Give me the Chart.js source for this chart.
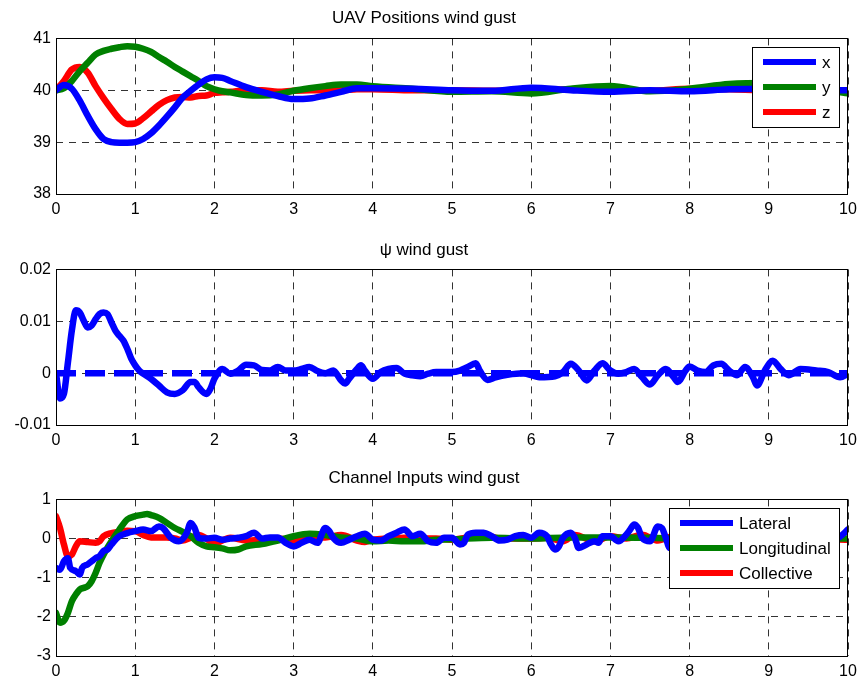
<!DOCTYPE html>
<html>
<head>
<meta charset="utf-8">
<title>UAV wind gust response</title>
<script src="https://cdn.jsdelivr.net/npm/chart.js@4.4.1/dist/chart.umd.min.js"></script>
<style>
  html, body { margin: 0; padding: 0; background: #fff; }
  #wrap { position: relative; width: 864px; height: 686px; overflow: hidden; background: #fff; }
  .panel { position: absolute; left: 0; width: 864px; }
  .panel canvas { display: block; }
</style>
</head>
<body>
<div id="wrap">
  <div class="panel" style="top:0;height:230px"><canvas id="cPos" width="864" height="230"></canvas></div>
  <div class="panel" style="top:230px;height:230px"><canvas id="cYaw" width="864" height="230"></canvas></div>
  <div class="panel" style="top:460px;height:226px"><canvas id="cIn" width="864" height="226"></canvas></div>
</div>
<script>
const FONT = "'Liberation Sans', Arial, Helvetica, sans-serif";

// Shared time axis (s)
const timeTicks = [0, 1, 2, 3, 4, 5, 6, 7, 8, 9, 10];

// --- UAV positions under wind gust ---
const posTime = [0, 0.1, 0.2, 0.3, 0.4, 0.5, 0.6, 0.7, 0.8, 0.9, 1.0, 1.1, 1.2, 1.3, 1.4, 1.5, 1.6, 1.7, 1.8, 1.9, 2.0,
                 2.1, 2.2, 2.4, 2.6, 2.8, 3.0, 3.2, 3.4, 3.6, 3.8, 4.0, 4.5, 5.0, 5.5, 6.0, 6.5, 7.0, 7.5, 8.0, 8.5, 9.0, 9.5, 10];
const posX = [40.0, 40.1, 40.03, 39.8, 39.51, 39.25, 39.06, 39.0, 38.99, 38.99, 39.0, 39.06, 39.17, 39.32, 39.49, 39.67, 39.86, 39.99, 40.11, 40.21, 40.25,
              40.24, 40.18, 40.06, 39.97, 39.89, 39.83, 39.84, 39.9, 39.97, 40.04, 40.04, 40.03, 40.0, 39.99, 40.05, 40.0, 39.97, 40.0, 39.98, 40.02, 40.03, 40.0, 40.0];
const posY = [40.0, 40.04, 40.18, 40.37, 40.53, 40.69, 40.76, 40.8, 40.83, 40.85, 40.84, 40.8, 40.74, 40.64, 40.55, 40.45, 40.36, 40.27, 40.18, 40.08, 40.02,
              39.98, 39.96, 39.91, 39.9, 39.92, 39.99, 40.04, 40.08, 40.11, 40.11, 40.08, 40.03, 39.97, 39.98, 39.94, 40.03, 40.08, 39.98, 40.03, 40.12, 40.14, 40.06, 39.94];
const posZ = [40.0, 40.18, 40.4, 40.45, 40.34, 40.08, 39.85, 39.64, 39.45, 39.35, 39.36, 39.46, 39.59, 39.72, 39.81, 39.86, 39.87, 39.86, 39.89, 39.9, 39.95,
              39.96, 39.97, 40.0, 40.0, 39.97, 39.99, 40.0, 40.0, 40.0, 40.02, 40.02, 40.0, 40.0, 39.99, 40.0, 40.02, 39.99, 39.99, 40.03, 40.02, 40.0, 40.0, 39.98];
const posTicks = [38, 39, 40, 41];
const posTickLabels = ['38', '39', '40', '41'];

// --- Yaw angle psi under wind gust ---
const yawTime = [0, 0.05, 0.1, 0.15, 0.2, 0.25, 0.3, 0.35, 0.4, 0.45, 0.5, 0.55, 0.6, 0.65, 0.7, 0.75, 0.8, 0.85, 0.9, 0.95,
                 1.0, 1.05, 1.1, 1.2, 1.3, 1.4, 1.5, 1.6, 1.7, 1.75, 1.8, 1.9, 1.95, 2.0, 2.1, 2.2, 2.3, 2.4, 2.5, 2.6, 2.7, 2.8, 2.9,
                 3.0, 3.1, 3.2, 3.3, 3.4, 3.5, 3.6, 3.65, 3.7, 3.8, 3.85, 3.9, 4.0, 4.1, 4.2, 4.3, 4.4, 4.5, 4.6, 4.7, 4.8, 4.9,
                 5.0, 5.1, 5.2, 5.3, 5.35, 5.45, 5.55, 5.7, 5.9, 6.0, 6.1, 6.3, 6.4, 6.5, 6.6, 6.7, 6.8, 6.9,
                 7.0, 7.1, 7.2, 7.3, 7.4, 7.5, 7.6, 7.7, 7.8, 7.85, 7.95, 8.0, 8.1, 8.2, 8.3, 8.4, 8.5, 8.6, 8.7, 8.8, 8.85, 8.95,
                 9.05, 9.15, 9.25, 9.4, 9.6, 9.75, 9.9, 10];
const yawAngle = [0, -0.0049, -0.004, 0.002, 0.0082, 0.0121, 0.0117, 0.0101, 0.0088, 0.0092, 0.0104, 0.0114, 0.0117, 0.0114, 0.0098, 0.0082, 0.0072, 0.0063, 0.0047, 0.0028,
                  0.0015, 0.0005, -0.0001, -0.0011, -0.0024, -0.0037, -0.004, -0.0033, -0.0017, -0.0017, -0.0027, -0.004, -0.003, -0.0011, 0.0008, -0.0001, 0.0005, 0.0016, 0.0015, 0.0006, 0.0005, 0.0012, 0.0005,
                  0.0005, 0.0008, 0.0012, 0.0004, 0, 0.0005, -0.0014, -0.002, -0.0011, 0.0008, 0.0015, 0.0005, -0.0011, 0.0002, 0.0008, 0.001, -0.0001, -0.0004, -0.0006, -0.0001, 0.0002, 0.0002,
                  0.0002, 0.0005, 0.0012, 0.0019, 0.0005, -0.0013, -0.0008, -0.0003, 0, -0.0004, -0.0008, -0.0006, 0.0002, 0.0018, 0.0005, -0.0014, 0.0005, 0.0019,
                  0.0005, -0.0001, 0.0002, 0.0008, -0.0008, -0.0022, -0.0004, 0.0008, -0.0008, -0.0017, 0.0005, 0.0013, 0.0005, 0.0002, 0.0015, 0.0018, 0.0005, -0.0004, 0.0012, -0.0008, -0.0024, 0.0005,
                  0.0024, 0.0008, -0.0004, 0.0008, 0.0005, 0.0002, -0.0008, -0.0001];
const yawRefTime = [0, 10];
const yawRef = [0, 0];
const yawTicks = [-0.01, 0, 0.01, 0.02];
const yawTickLabels = ['-0.01', '0', '0.01', '0.02'];

// --- Channel inputs under wind gust ---
const latTime = [0, 0.05, 0.1, 0.15, 0.18, 0.25, 0.3, 0.33, 0.4, 0.45, 0.5, 0.55, 0.6, 0.65, 0.7, 0.8, 0.9, 1.0, 1.1, 1.2, 1.3, 1.35, 1.45, 1.55, 1.65, 1.7, 1.75, 1.8, 1.9,
                 2.0, 2.1, 2.2, 2.3, 2.4, 2.5, 2.6, 2.7, 2.8, 2.9, 3.0, 3.1, 3.2, 3.3, 3.4, 3.45, 3.5, 3.6, 3.7, 3.8, 3.9,
                 4.0, 4.1, 4.2, 4.3, 4.4, 4.5, 4.6, 4.7, 4.8, 4.9, 5.0, 5.1, 5.15, 5.2, 5.3, 5.4, 5.5, 5.6, 5.7, 5.8, 5.9,
                 6.0, 6.1, 6.2, 6.25, 6.3, 6.35, 6.4, 6.5, 6.55, 6.6, 6.7, 6.8, 6.85, 6.9, 7.0, 7.1, 7.2, 7.25, 7.3, 7.35, 7.4, 7.5, 7.6, 7.65, 7.7, 7.75,
                 7.85, 8.0, 8.2, 8.4, 8.6, 8.8, 9.0, 9.2, 9.4, 9.6, 9.8, 9.9, 10];
const latInput = [-0.75, -0.8, -0.58, -0.5, -0.75, -0.83, -0.92, -0.75, -0.66, -0.58, -0.5, -0.45, -0.32, -0.28, -0.15, 0.06, 0.14, 0.19, 0.23, 0.19, 0.31, 0.27, 0.02, -0.07, 0.14, 0.4, 0.27, 0.02, 0.0,
                  0.02, -0.03, 0.0, 0.02, 0.06, 0.15, 0.0, 0.03, 0.03, -0.11, -0.2, -0.11, -0.03, -0.11, 0.27, 0.19, 0.02, -0.11, -0.03, 0.06, 0.12,
                  -0.03, -0.05, 0.06, 0.15, 0.23, 0.06, 0.12, -0.07, -0.11, 0.02, 0.02, -0.15, -0.11, 0.1, 0.15, 0.15, 0.06, -0.05, -0.03, 0.06, 0.09,
                  0.02, 0.15, 0.06, -0.15, -0.28, -0.2, 0.02, 0.15, 0.02, -0.24, -0.15, -0.07, -0.11, 0.06, 0.06, -0.07, 0.1, 0.23, 0.36, 0.27, 0.02, -0.07, 0.31, 0.27, 0.02, -0.24,
                  -0.1, 0.1, -0.1, 0.15, -0.1, 0.2, -0.15, 0.2, -0.1, 0.15, -0.05, 0.05, 0.23];
const lonTime = [0, 0.05, 0.1, 0.15, 0.2, 0.25, 0.3, 0.35, 0.4, 0.45, 0.5, 0.55, 0.6, 0.7, 0.8, 0.9, 1.0, 1.1, 1.15, 1.2, 1.3, 1.4, 1.5, 1.6, 1.7, 1.8, 1.9,
                 2.0, 2.1, 2.2, 2.3, 2.4, 2.6, 2.8, 3.0, 3.2, 3.4, 3.6, 3.8, 4.0, 4.2, 4.4, 4.6, 4.8, 5.0, 5.5, 6.0, 6.5, 7.0, 7.5, 8.0, 8.5, 9.0, 9.5, 10];
const lonInput = [-1.9, -2.15, -2.1, -1.9, -1.6, -1.43, -1.3, -1.26, -1.22, -1.09, -0.88, -0.62, -0.41, -0.07, 0.23, 0.49, 0.57, 0.61, 0.63, 0.6, 0.53, 0.4, 0.27, 0.17, 0.06, -0.11, -0.2,
                  -0.22, -0.25, -0.3, -0.28, -0.2, -0.14, -0.05, 0.06, 0.12, 0.09, 0.03, 0.0, -0.07, -0.05, -0.07, -0.07, -0.03, -0.02, 0.02, 0.0, 0.03, 0.03, 0.02, 0.0, 0.0, 0.0, 0.0, 0.0];
const colTime = [0, 0.05, 0.1, 0.15, 0.2, 0.25, 0.3, 0.4, 0.5, 0.55, 0.6, 0.7, 0.8, 0.9, 1.0, 1.1, 1.2, 1.4, 1.5, 1.6, 1.7, 1.8, 1.9,
                 2.0, 2.1, 2.2, 2.4, 2.6, 2.8, 3.0, 3.2, 3.4, 3.6, 3.8, 3.9, 4.0, 4.2, 4.4, 4.6, 4.8, 5.0, 5.2, 5.4, 5.6, 6.0,
                 6.2, 6.4, 6.55, 6.8, 7.0, 7.2, 7.4, 7.6, 7.8, 8.0, 8.5, 9.0, 9.5, 10];
const colInput = [0.57, 0.27, -0.15, -0.45, -0.41, -0.2, -0.07, -0.09, -0.11, -0.07, 0.06, 0.14, 0.17, 0.2, 0.19, 0.09, 0.03, 0.03, 0.0, -0.05, 0.02, 0.09, 0.0,
                  -0.14, -0.05, 0.02, -0.05, -0.03, 0.0, -0.05, 0.03, 0.03, 0.09, -0.05, -0.09, -0.03, 0.0, 0.02, 0.0, 0.0, -0.03, 0.03, 0.1, 0.0, 0.0,
                  0.02, -0.07, 0.09, -0.07, 0.06, 0.0, 0.1, -0.05, 0.06, 0.0, 0.02, 0.0, 0.0, -0.03];
const inTicks = [-3, -2, -1, 0, 1];
const inTickLabels = ['-3', '-2', '-1', '0', '1'];

const BLUE = '#0000ff', GREEN = '#008000', RED = '#ff0000';

function series(t, v) { return t.map((x, i) => ({ x: x, y: v[i] })); }

// Axes frame plus an opaque key box in the upper-right corner of the plot area
const panelDecor = {
  id: 'panelDecor',
  afterDatasetsDraw(chart, args, opts) {
    const ctx = chart.ctx, a = chart.chartArea;
    ctx.save();
    ctx.strokeStyle = '#000';
    ctx.lineWidth = 1;
    ctx.strokeRect(Math.round(a.left) + 0.5, Math.round(a.top) + 0.5, Math.round(a.right - a.left) - 1, Math.round(a.bottom - a.top));
    if (opts.key) {
      const items = chart.data.datasets.filter(d => d.label);
      ctx.font = '17px ' + FONT;
      const tw = Math.max.apply(null, items.map(d => ctx.measureText(d.label).width));
      const w = Math.round(11 + 53 + 6 + tw + 8);
      const h = 15 + 25 * (items.length - 1) + 15;
      const x0 = Math.round(a.right - 9 - w), y0 = Math.round(a.top + 9);
      ctx.fillStyle = '#fff';
      ctx.fillRect(x0, y0, w, h);
      ctx.strokeStyle = '#000';
      ctx.lineWidth = 1;
      ctx.strokeRect(x0 + 0.5, y0 + 0.5, w, h);
      items.forEach((d, i) => {
        const y = y0 + 15 + 25 * i;
        ctx.strokeStyle = d.borderColor;
        ctx.lineWidth = 6;
        ctx.lineCap = 'butt';
        ctx.beginPath();
        ctx.moveTo(x0 + 11, y);
        ctx.lineTo(x0 + 64, y);
        ctx.stroke();
        ctx.fillStyle = '#000';
        ctx.textBaseline = 'middle';
        ctx.textAlign = 'left';
        ctx.fillText(d.label, x0 + 70, y + 1);
      });
    }
    ctx.restore();
  }
};

function makePanel(id, title, titlePad, xAxisHeight, datasets, yMin, yMax, yTicks, yLabels, key) {
  return new Chart(document.getElementById(id), {
    type: 'line',
    data: { datasets: datasets },
    options: {
      responsive: false,
      animation: false,
      events: [],
      layout: { padding: { left: 0, right: 16, top: 0, bottom: 0 } },
      elements: {
        point: { radius: 0 },
        line: { borderWidth: 6.5, cubicInterpolationMode: 'monotone', borderCapStyle: 'round', borderJoinStyle: 'round' }
      },
      plugins: {
        legend: { display: false },
        tooltip: { enabled: false },
        title: {
          display: true, text: title, color: '#000',
          font: { family: FONT, size: 17, weight: 'normal', lineHeight: 1.2 },
          padding: titlePad
        },
        panelDecor: { key: key }
      },
      scales: {
        x: {
          type: 'linear', min: 0, max: 10,
          afterBuildTicks: s => { s.ticks = timeTicks.map(v => ({ value: v })); },
          afterFit: s => { s.height = xAxisHeight; },
          ticks: { color: '#000', font: { family: FONT, size: 16 }, padding: 6, maxRotation: 0, autoSkip: false,
                   callback: v => String(v) },
          grid: { color: '#333', lineWidth: 1, drawTicks: false },
          border: { display: false, dash: [7, 6] }
        },
        y: {
          type: 'linear', min: yMin, max: yMax,
          afterBuildTicks: s => { s.ticks = yTicks.map(v => ({ value: v })); },
          afterFit: s => { s.width = 56; },
          ticks: { color: '#000', font: { family: FONT, size: 16 }, padding: 5, autoSkip: false,
                   callback: v => yLabels[yTicks.indexOf(v)] },
          grid: { color: '#333', lineWidth: 1, drawTicks: false },
          border: { display: false, dash: [7, 6] }
        }
      }
    },
    plugins: [panelDecor]
  });
}

makePanel('cPos', 'UAV Positions wind gust', { top: 8, bottom: 10 }, 36, [
  { label: 'x', data: series(posTime, posX), borderColor: BLUE, backgroundColor: BLUE },
  { label: 'y', data: series(posTime, posY), borderColor: GREEN, backgroundColor: GREEN },
  { label: 'z', data: series(posTime, posZ), borderColor: RED, backgroundColor: RED }
], 38, 41, posTicks, posTickLabels, true);

makePanel('cYaw', 'ψ wind gust', { top: 10, bottom: 9 }, 35, [
  { data: series(yawTime, yawAngle), borderColor: BLUE, backgroundColor: BLUE },
  { data: series(yawRefTime, yawRef), borderColor: BLUE, backgroundColor: BLUE, borderDash: [20, 9], borderCapStyle: 'butt' }
], -0.01, 0.02, yawTicks, yawTickLabels, false);

makePanel('cIn', 'Channel Inputs wind gust', { top: 8, bottom: 11 }, 30, [
  { label: 'Lateral', data: series(latTime, latInput), borderColor: BLUE, backgroundColor: BLUE },
  { label: 'Longitudinal', data: series(lonTime, lonInput), borderColor: GREEN, backgroundColor: GREEN },
  { label: 'Collective', data: series(colTime, colInput), borderColor: RED, backgroundColor: RED }
], -3, 1, inTicks, inTickLabels, true);
</script>
</body>
</html>
